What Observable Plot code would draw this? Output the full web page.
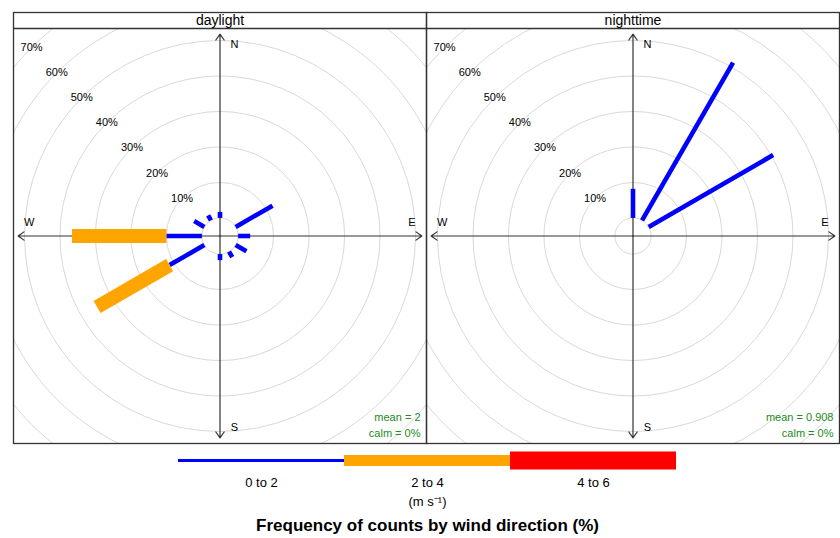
<!DOCTYPE html>
<html>
<head>
<meta charset="utf-8">
<script src="https://cdn.jsdelivr.net/npm/d3@7"></script>
<script src="https://cdn.jsdelivr.net/npm/@observablehq/plot@0.6"></script>
<style>
  body { margin: 0; background: #fff; font-family: "Liberation Sans", Arial, sans-serif; }
  svg { display: block; }
</style>
</head>
<body>
<div id="chart"></div>
<script>
// ---------- data ----------
const periods = ["daylight", "nighttime"];
const directions = [0, 30, 60, 90, 120, 150, 180, 210, 240, 270, 300, 330];
const speedBins = ["0 to 2", "2 to 4", "4 to 6"];
const daylight_0to2 = [1.7, 0, 12.0, 3.4, 3.5, 1.8, 1.7, 0, 11.3, 10.0, 3.3, 1.6];
const daylight_2to4 = [0, 0, 0, 0, 0, 0, 0, 0, 23.6, 26.6, 0, 0];
const daylight_4to6 = [0, 0, 0, 0, 0, 0, 0, 0, 0, 0, 0, 0];
const nighttime_0to2 = [8.2, 51.3, 40.5, 0, 0, 0, 0, 0, 0, 0, 0, 0];
const nighttime_2to4 = [0, 0, 0, 0, 0, 0, 0, 0, 0, 0, 0, 0];
const nighttime_4to6 = [0, 0, 0, 0, 0, 0, 0, 0, 0, 0, 0, 0];
const ringPercents = [0, 10, 20, 30, 40, 50, 60, 70];
const compassLabels = ["N", "E", "S", "W"];
const compassAngles = [0, 90, 180, 270];
const meanSpeed = ["2", "0.908"];
const calmPct = ["0%", "0%"];
const unitLabel = "(m s\u207B\u00B9)";
const titleText = "Frequency of counts by wind direction (%)";

// ---------- layout ----------
const W = 840, H = 445, mL = 13, mR = 1, mT = 28, mB = 2;
const panelW = (W - mL - mR) / 2, panelH = H - mT - mB;
const xHalf = 58.2;
const k = panelW / 2 / xHalf;
const yHalf = panelH / 2 / k;
const offset = 5.1;        // hole in the middle (in % units)
const axisExtent = 56.9;   // length of compass arrows (in % units)
const rad = d => d * Math.PI / 180;
const colors = ["#0000ff", "#ffa500", "#ff0000"];
const barWidths = [4.6, 14, 22];
const font = '"Liberation Sans", Arial, sans-serif';

const series = {
  daylight: [daylight_0to2, daylight_2to4, daylight_4to6],
  nighttime: [nighttime_0to2, nighttime_2to4, nighttime_4to6]
};
const segs = [];
periods.forEach(p => {
  directions.forEach((dir, i) => {
    let start = offset;
    speedBins.forEach((b, bi) => {
      const v = series[p][bi][i];
      if (v > 0) segs.push({period: p, bin: b, bi, dir, r1: start, r2: start + v});
      start += v;
    });
  });
});

const compassOffsets = {N: [14.5, 10], E: [-10, -14], S: [14.5, -10], W: [11, -14]};

const main = Plot.plot({
  width: W, height: H,
  marginLeft: mL, marginRight: mR, marginTop: mT, marginBottom: mB,
  fx: {domain: periods, padding: 0, axis: null},
  x: {domain: [-xHalf, xHalf], axis: null},
  y: {domain: [-yHalf, yHalf], axis: null},
  r: {type: "linear", domain: [0, xHalf], range: [0, panelW / 2]},
  color: {domain: speedBins, range: colors},
  style: {fontFamily: font, fontSize: "11px", color: "#000", background: "#fff"},
  marks: [
    Plot.dot(ringPercents, {x: 0, y: 0, r: p => offset + p, stroke: "#d9d9d9", strokeWidth: 1, fill: "none", clip: true}),
    Plot.text(ringPercents.filter(p => p > 0), {
      x: p => -(offset + p) * Math.SQRT1_2, y: p => (offset + p) * Math.SQRT1_2,
      text: p => p + "%", fontSize: 11, fill: "#000"
    }),
    Plot.arrow(compassAngles, {
      x1: 0, y1: 0,
      x2: a => axisExtent * Math.sin(rad(a)), y2: a => axisExtent * Math.cos(rad(a)),
      stroke: "#333", strokeWidth: 1.2, headLength: 9, headAngle: 70
    }),
    ...compassLabels.map((lab, i) => Plot.text([lab], {
      x: axisExtent * Math.sin(rad(compassAngles[i])),
      y: axisExtent * Math.cos(rad(compassAngles[i])),
      text: d => d, dx: compassOffsets[lab][0], dy: compassOffsets[lab][1], fontSize: 11, fill: "#000"
    })),
    Plot.link(segs, {
      fx: "period",
      x1: d => d.r1 * Math.sin(rad(d.dir)), y1: d => d.r1 * Math.cos(rad(d.dir)),
      x2: d => d.r2 * Math.sin(rad(d.dir)), y2: d => d.r2 * Math.cos(rad(d.dir)),
      stroke: "bin", strokeWidth: d => barWidths[d.bi], strokeLinecap: "butt"
    }),
    Plot.text(periods, {fx: d => d, frameAnchor: "bottom-right", lineAnchor: "middle", dx: -6, dy: -26,
      text: (d, i) => `mean = ${meanSpeed[i]}`, fill: "#228b22", fontSize: 11}),
    Plot.text(periods, {fx: d => d, frameAnchor: "bottom-right", lineAnchor: "middle", dx: -6, dy: -10,
      text: (d, i) => `calm = ${calmPct[i]}`, fill: "#228b22", fontSize: 11}),
    Plot.ruleY([yHalf], {stroke: "#333", strokeWidth: 1.3}),
    Plot.frame({stroke: "#333", strokeWidth: 1.3, insetTop: -16}),
    Plot.text(periods, {fx: d => d, frameAnchor: "top", lineAnchor: "middle", dy: -8, text: d => d, fontSize: 14, fill: "#000"})
  ]
});

const legendWidths = [3, 11, 18];
const legendTexts = [
  {text: unitLabel, dy: 41, size: 13, weight: "normal"},
  {text: titleText, dy: 65, size: 17, weight: "bold"}
];
const legend = Plot.plot({
  width: W, height: 93,
  marginLeft: 0, marginRight: 0, marginTop: 0, marginBottom: 0,
  x: {type: "band", domain: speedBins, range: [178, 676], padding: 0, axis: null},
  y: {domain: [0, 1], range: [15, 93], axis: null},
  color: {domain: speedBins, range: colors},
  style: {fontFamily: font, fontSize: "13px", color: "#000", background: "#fff"},
  marks: [
    Plot.tickY(speedBins, {x: d => d, y: 0, stroke: d => d, strokeWidth: (d, i) => legendWidths[i]}),
    Plot.text(speedBins, {x: d => d, y: 0, dy: 22, text: d => d, fontSize: 13, fill: "#000"}),
    ...legendTexts.map(t => Plot.text([t.text], {x: () => speedBins[1], y: 0, dy: t.dy, text: d => d,
      fontSize: t.size, fontWeight: t.weight, fill: "#000"}))
  ]
});

const root = document.getElementById("chart");
root.append(main, legend);
</script>
</body>
</html>
